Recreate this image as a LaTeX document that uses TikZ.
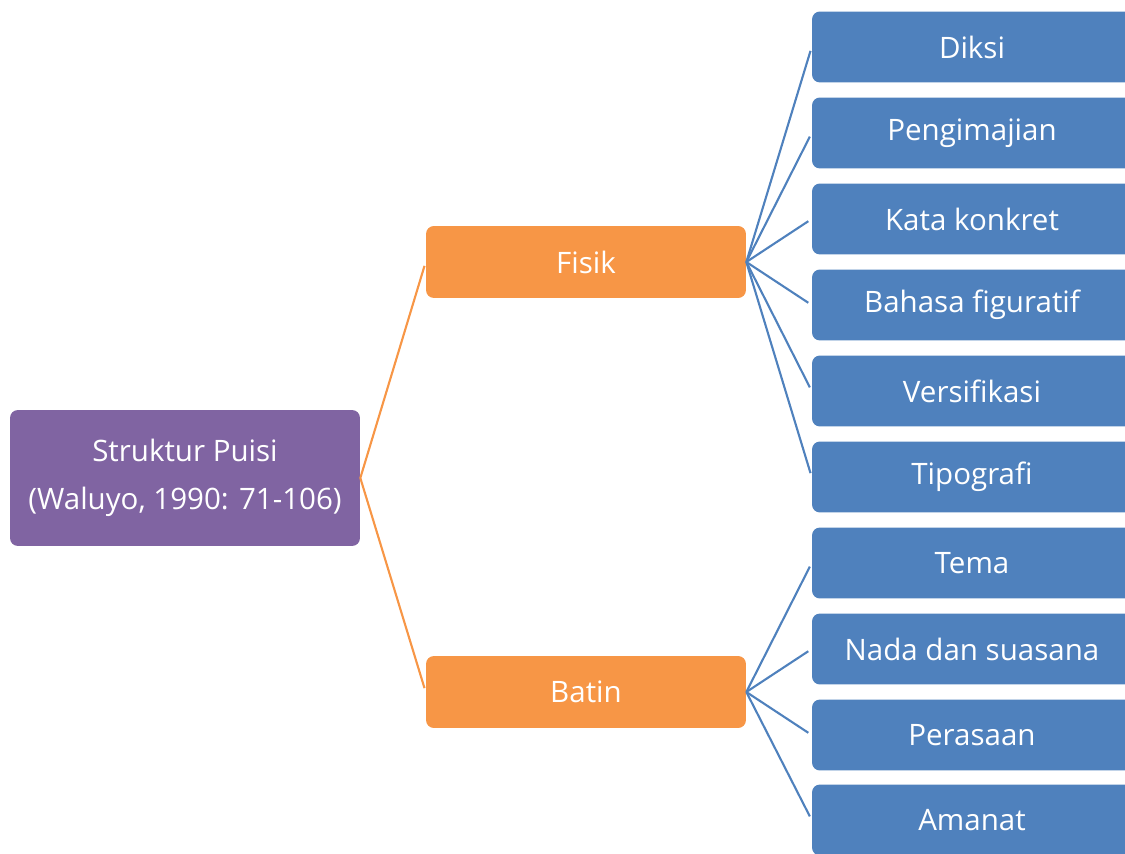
\documentclass[tikz,border=0pt]{standalone}
\usepackage{fontspec}
\setmainfont{Open Sans}
\usetikzlibrary{positioning}
\definecolor{puisiPurple}{HTML}{8064A2}
\definecolor{puisiOrange}{HTML}{F79646}
\definecolor{puisiBlue}{HTML}{4F81BD}
\tikzset{
  box/.style={rounded corners=4.5pt, text=white, align=center, inner sep=0pt,
    font=\fontsize{16.8}{27}\selectfont},
  rootbox/.style={box, fill=puisiPurple, minimum width=7cm, minimum height=2.72cm},
  partbox/.style={box, fill=puisiOrange, minimum width=6.4cm, minimum height=1.44cm},
  itembox/.style={box, fill=puisiBlue, minimum width=6.4cm, minimum height=1.42cm},
  orangeline/.style={puisiOrange, line width=1.2pt, shorten >=2.3pt},
  blueline/.style={puisiBlue, line width=1.2pt, shorten >=2.3pt}
}
\begin{document}
\begin{tikzpicture}[x=0.02cm, y=-0.02cm]
\useasboundingbox (0,0) rectangle (1125,854);
\clip (0,0) rectangle (1125,854);

\node[rootbox] (root) at (185,478) {Struktur Puisi\\(Waluyo, 1990: 71-106)};
\node[partbox] (fisik) at (586,262) {Fisik};
\node[partbox] (batin) at (586,692) {Batin};

\node[itembox] (diksi) at (972,47) {Diksi};
\node[itembox] (pengimajian) at (972,133) {Pengimajian};
\node[itembox] (katakonkret) at (972,219) {Kata konkret};
\node[itembox] (bahasa) at (972,305) {Bahasa figuratif};
\node[itembox] (versifikasi) at (972,391) {Versifikasi};
\node[itembox] (tipografi) at (972,477) {Tipografi};
\node[itembox] (tema) at (972,563) {Tema};
\node[itembox] (nada) at (972,649) {Nada dan suasana};
\node[itembox] (perasaan) at (972,735) {Perasaan};
\node[itembox] (amanat) at (972,820) {Amanat};

\draw[orangeline] (root.east) -- (fisik.west);
\draw[orangeline] (root.east) -- (batin.west);

\draw[blueline] (fisik.east) -- (diksi.west);
\draw[blueline] (fisik.east) -- (pengimajian.west);
\draw[blueline] (fisik.east) -- (katakonkret.west);
\draw[blueline] (fisik.east) -- (bahasa.west);
\draw[blueline] (fisik.east) -- (versifikasi.west);
\draw[blueline] (fisik.east) -- (tipografi.west);

\draw[blueline] (batin.east) -- (tema.west);
\draw[blueline] (batin.east) -- (nada.west);
\draw[blueline] (batin.east) -- (perasaan.west);
\draw[blueline] (batin.east) -- (amanat.west);
\end{tikzpicture}
\end{document}
